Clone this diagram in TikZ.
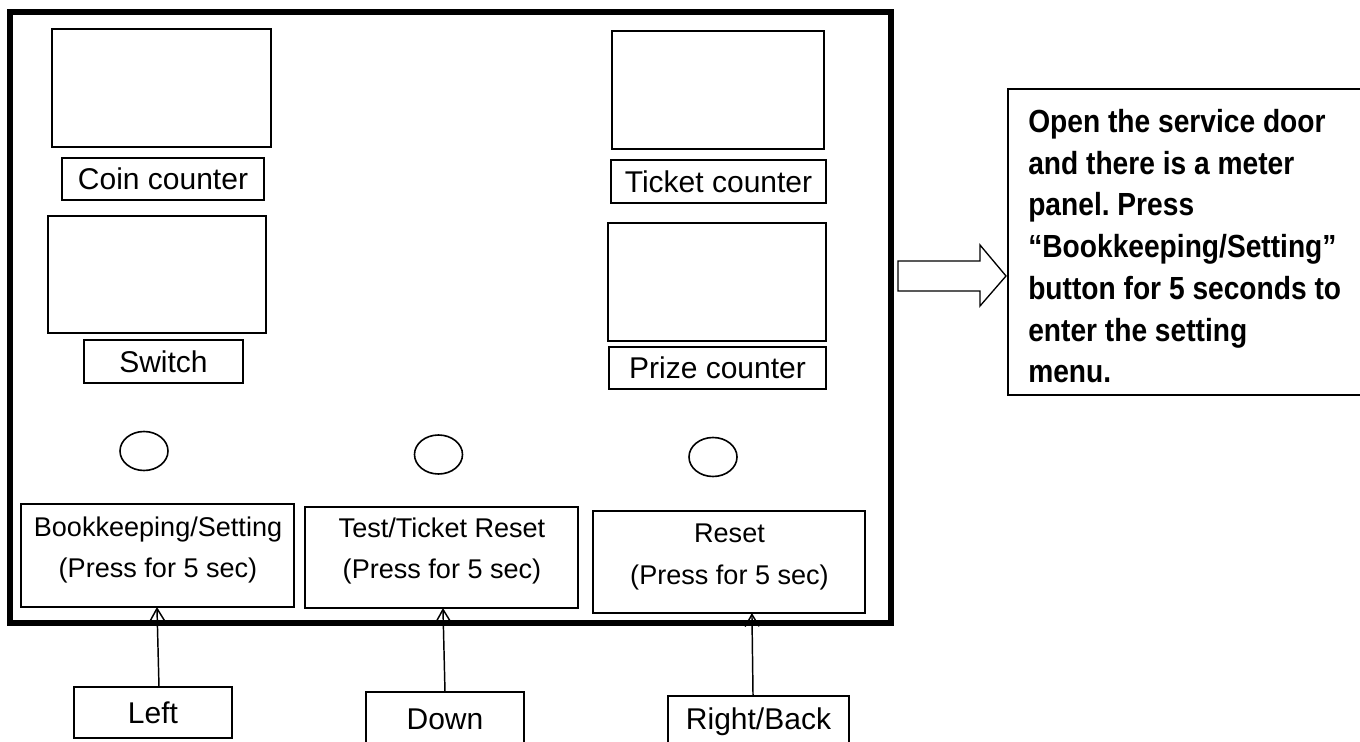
\documentclass[tikz,border=0pt]{standalone}
\usepackage{fontspec}
\setmainfont{Liberation Sans}
\newfontfamily\expfont{Liberation Sans}[FakeStretch=0.88]
\usetikzlibrary{arrows.meta,shapes.geometric}
\frenchspacing
\begin{document}
\begin{tikzpicture}[x=0.75pt,y=-0.75pt,
  disp/.style={draw,line width=1.5pt,inner sep=0,outer sep=0},
  lab/.style={draw,line width=1.2pt,inner sep=0,outer sep=0,font=\fontsize{22.5}{27}\selectfont},
  btn/.style={draw,line width=1.1pt,inner sep=0,outer sep=0},
  btntxt/.style={inner sep=0,align=center,anchor=north,font=\fontsize{20.3}{30.75}\selectfont},
  knob/.style={draw,ellipse,line width=1.2pt,inner sep=0,minimum width=36pt,minimum height=29.25pt},
  arr/.style={line width=1.1pt,-{Straight Barb[length=9pt,width=10.5pt]}}
]
\useasboundingbox (0,0) rectangle (1360,742);
% outer frame
\draw[line width=4.2pt] (10,12) rectangle (891,623);
% left column
\node[disp,minimum width=164.25pt,minimum height=88.5pt] (coindisp) at (161.5,88) {};
\node[lab,minimum width=151.5pt,minimum height=31.5pt] (coinlab) at (163,179) {Coin counter};
\node[disp,minimum width=163.5pt,minimum height=87.75pt] (swdisp) at (157,274.5) {};
\node[lab,minimum width=119.25pt,minimum height=32.25pt] (swlab) at (163.5,361.5) {Switch};
% right column
\node[disp,minimum width=159pt,minimum height=88.5pt] (tkdisp) at (718,90) {};
\node[lab,minimum width=161.25pt,minimum height=32.25pt] (tklab) at (718.5,181.5) {Ticket counter};
\node[disp,minimum width=163.5pt,minimum height=88.5pt] (pzdisp) at (717,282) {};
\node[lab,minimum width=162.75pt,minimum height=31.5pt] (pzlab) at (717.5,368) {Prize counter};
% knobs
\node[knob] (k1) at (144,451) {};
\node[knob] (k2) at (438.5,454.5) {};
\node[knob] (k3) at (713,457) {};
% buttons
\node[btn,minimum width=204.75pt,minimum height=77.25pt] (bk) at (157.5,555.5) {};
\node[btntxt] (bkt) at (158,517) {Bookkeeping/Setting\\(Press for 5 sec)};
\node[btn,minimum width=204.75pt,minimum height=75.75pt] (test) at (441.5,557.5) {};
\node[btntxt] (testt) at (442,518) {Test/Ticket Reset\\(Press for 5 sec)};
\node[btn,minimum width=204pt,minimum height=76.5pt] (reset) at (729,562) {};
\node[btntxt,font=\fontsize{20.3}{31.5}\selectfont] (resett) at (729.5,523.5) {Reset\\(Press for 5 sec)};
% bottom labels
\node[lab,minimum width=118.5pt,minimum height=38.25pt] (left) at (153,712.5) {Left};
\node[lab,minimum width=118.5pt,minimum height=40.5pt] (down) at (445,719) {Down};
\node[lab,minimum width=135.75pt,minimum height=39pt] (rb) at (758.5,722) {Right/Back};
% arrows
\draw[arr] ([xshift=4.5pt]left.north) -- ([xshift=-0.4pt]bk.south);
\draw[arr] (down.north) -- ([xshift=1.1pt]test.south);
\draw[arr] ([xshift=-4.1pt]rb.north) -- ([xshift=17.2pt]reset.south);
% hollow block arrow
\draw[line width=1pt,line join=miter] (898,261) -- (980,261) -- (980,245) -- (1006,276) -- (980,306) -- (980,291) -- (898,291) -- cycle;
% explanation box (open on the right, runs off the page)
\draw[line width=1.5pt] (1380,89) -- (1008,89) -- (1008,395) -- (1380,395);
\node[anchor=north west,inner sep=0,align=left,font=\expfont\bfseries\fontsize{24}{31.3}\selectfont] (exp) at (1028,109)
  {Open the service door\\and there is a meter\\panel. Press\\“Bookkeeping/Setting”\\button for 5 seconds to\\enter the setting\\menu.};
\end{tikzpicture}
\end{document}
